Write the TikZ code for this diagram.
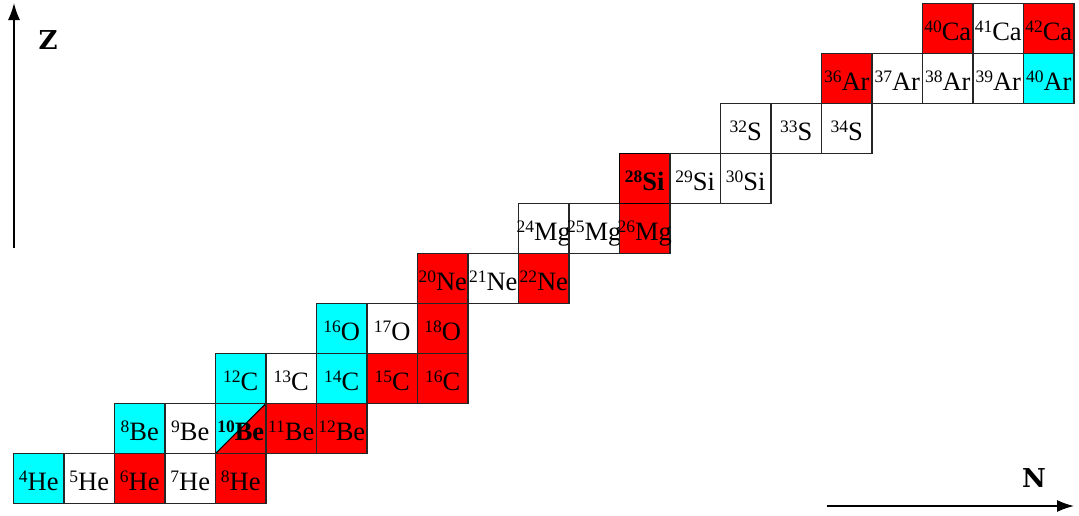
\documentclass[tikz,border=0pt]{standalone}
\usepackage{fontspec}
\setmainfont{Liberation Serif}
\newfontfamily\axisfont{DejaVu Serif}
\usetikzlibrary{arrows.meta}

\definecolor{nucred}{RGB}{255,0,0}
\definecolor{nuccyan}{RGB}{0,255,255}

% isotope label: mass number as a raised small figure, then the symbol
\newcommand{\iso}[2]{\makebox[0pt]{\raisebox{0.32em}{\fontsize{17.5}{17.5}\selectfont #1}#2}}
% one cell of the chart: name, row (Z/2-1), column (N-2), style, label
\newcommand{\cellnode}[5]{\node[cell,#4] (#1) at ({38.75+50.5*#3},{478.5-50*#2}) {#5};}

\tikzset{
  cell/.style={draw=black!85, line width=1.1pt, minimum width=50.5pt, minimum height=50pt,
    inner sep=0pt, text height=28pt, text depth=4pt,
    font=\fontsize{26.5}{26.5}\selectfont},
  stable/.style={fill=nuccyan},
  unstable/.style={fill=nucred},
  plain/.style={fill=white},
  split/.style={fill=nuccyan, path picture={
      \fill[nucred] (path picture bounding box.south west) -- (path picture bounding box.south east)
        -- (path picture bounding box.north east) -- cycle;
      \draw[black, line width=1.1pt] (path picture bounding box.south west) -- (path picture bounding box.north east);}},
  axis/.style={line width=1.5pt, -{Latex[length=17pt,width=12pt]}},
  axislabel/.style={font=\axisfont\bfseries\fontsize{26}{26}\selectfont, inner sep=0pt}
}

\begin{document}
\begin{tikzpicture}[x=1pt,y=-1pt]
\useasboundingbox (0,0) rectangle (1079,515);

% helium
\cellnode{he4}{0}{0}{stable}{\iso{4}{He}}
\cellnode{he5}{0}{1}{plain}{\iso{5}{He}}
\cellnode{he6}{0}{2}{unstable}{\iso{6}{He}}
\cellnode{he7}{0}{3}{plain}{\iso{7}{He}}
\cellnode{he8}{0}{4}{unstable}{\iso{8}{He}}
% beryllium
\cellnode{be8}{1}{2}{stable}{\iso{8}{Be}}
\cellnode{be9}{1}{3}{plain}{\iso{9}{Be}}
\cellnode{be10}{1}{4}{split}{\bfseries\iso{10}{Be}}
\cellnode{be11}{1}{5}{unstable}{\iso{11}{Be}}
\cellnode{be12}{1}{6}{unstable}{\iso{12}{Be}}
% carbon
\cellnode{c12}{2}{4}{stable}{\iso{12}{C}}
\cellnode{c13}{2}{5}{plain}{\iso{13}{C}}
\cellnode{c14}{2}{6}{stable}{\iso{14}{C}}
\cellnode{c15}{2}{7}{unstable}{\iso{15}{C}}
\cellnode{c16}{2}{8}{unstable}{\iso{16}{C}}
% oxygen
\cellnode{o16}{3}{6}{stable}{\iso{16}{O}}
\cellnode{o17}{3}{7}{plain}{\iso{17}{O}}
\cellnode{o18}{3}{8}{unstable}{\iso{18}{O}}
% neon
\cellnode{ne20}{4}{8}{unstable}{\iso{20}{Ne}}
\cellnode{ne21}{4}{9}{plain}{\iso{21}{Ne}}
\cellnode{ne22}{4}{10}{unstable}{\iso{22}{Ne}}
% magnesium
\cellnode{mg24}{5}{10}{plain}{\iso{24}{Mg}}
\cellnode{mg25}{5}{11}{plain}{\iso{25}{Mg}}
\cellnode{mg26}{5}{12}{unstable}{\iso{26}{Mg}}
% silicon
\cellnode{si28}{6}{12}{unstable, line width=1.6pt, draw=black}{\bfseries\iso{28}{Si}}
\cellnode{si29}{6}{13}{plain}{\iso{29}{Si}}
\cellnode{si30}{6}{14}{plain}{\iso{30}{Si}}
% sulfur
\cellnode{s32}{7}{14}{plain}{\iso{32}{S}}
\cellnode{s33}{7}{15}{plain}{\iso{33}{S}}
\cellnode{s34}{7}{16}{plain}{\iso{34}{S}}
% argon
\cellnode{ar36}{8}{16}{unstable}{\iso{36}{Ar}}
\cellnode{ar37}{8}{17}{plain}{\iso{37}{Ar}}
\cellnode{ar38}{8}{18}{plain}{\iso{38}{Ar}}
\cellnode{ar39}{8}{19}{plain}{\iso{39}{Ar}}
\cellnode{ar40}{8}{20}{stable}{\iso{40}{Ar}}
% calcium
\cellnode{ca40}{9}{18}{unstable}{\iso{40}{Ca}}
\cellnode{ca41}{9}{19}{plain}{\iso{41}{Ca}}
\cellnode{ca42}{9}{20}{unstable}{\iso{42}{Ca}}

% axes
\coordinate (zfoot) at (14,248);
\coordinate (ztip) at (14,3);
\coordinate (nfoot) at (827,506);
\coordinate (ntip) at (1074,506);
\draw[axis] (zfoot) -- (ztip);
\draw[axis] (nfoot) -- (ntip);
\node[axislabel] (zlab) at (48,40) {Z};
\node[axislabel] (nlab) at (1034,478) {N};
\end{tikzpicture}
\end{document}
